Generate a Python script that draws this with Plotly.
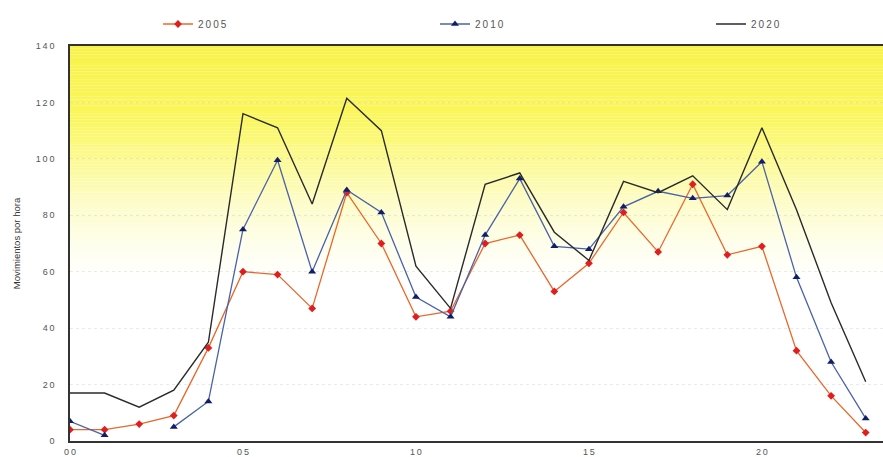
import plotly.graph_objects as go

# Hourly aircraft movements (hour of day 0..23)
hours = list(range(24))
mov_2005 = [4, 4, 6, 9, 33, 60, 59, 47, 88, 70, 44, 46, 70, 73, 53, 63, 81, 67, 91, 66, 69, 32, 16, 3]
mov_2010 = [7, 2, None, 5, 14, 75, 99.5, 60, 89, 81, 51, 44, 73, 93, 69, 68, 83, 88.5, 86, 87, 99, 58, 28, 8]
mov_2020 = [17, 17, 12, 18, 35, 116, 111, 84, 121.5, 110, 62, 47, 91, 95, 74, 64, 92, 88, 94, 82, 111, 82, 49, 21]

y_ticks = [0, 20, 40, 60, 80, 100, 120, 140]
x_ticks = [0, 5, 10, 15, 20]
x_tick_labels = ["00", "05", "10", "15", "20"]

THIN = "\u2009"


def spaced(s):
    return THIN.join(str(s))


fig = go.Figure()

fig.add_trace(go.Scatter(
    x=hours, y=mov_2005, name=spaced("2005"), mode="lines+markers",
    line=dict(color="#E8682C", width=1.3),
    marker=dict(symbol="diamond", size=6, color="#E01E1E"),
    legend="legend",
))
fig.add_trace(go.Scatter(
    x=hours, y=mov_2010, name=spaced("2010"), mode="lines+markers",
    connectgaps=False,
    line=dict(color="#4A62A8", width=1.3),
    marker=dict(symbol="triangle-up", size=7, color="#101E6A"),
    legend="legend2",
))
fig.add_trace(go.Scatter(
    x=hours, y=mov_2020, name=spaced("2020"), mode="lines",
    line=dict(color="#2A2A2A", width=1.4),
    legend="legend3",
))

# Yellow-to-white vertical gradient behind the plot area
stops = [
    (140, (248, 242, 72)),
    (115, (250, 246, 92)),
    (100, (252, 250, 145)),
    (85, (253, 252, 198)),
    (70, (254, 254, 235)),
    (58, (255, 255, 255)),
    (0, (255, 255, 255)),
]


def color_at(v):
    for (v1, c1), (v0, c0) in zip(stops[:-1], stops[1:]):
        if v0 <= v <= v1:
            t = (v - v0) / (v1 - v0) if v1 != v0 else 0
            return tuple(round(c0[i] + (c1[i] - c0[i]) * t) for i in range(3))
    return (255, 255, 255)


shapes = []
step = 1.0
v = 0.0
while v < 140:
    c = color_at(v + step / 2)
    shapes.append(dict(
        type="rect", xref="x domain", yref="y", x0=0, x1=1, y0=v, y1=v + step,
        fillcolor="rgb(%d,%d,%d)" % c, line=dict(width=0), layer="below",
    ))
    v += step


def legend_at(px):
    return dict(
        orientation="h", xref="container", yref="container",
        x=px / 883, y=1 - 24 / 457, xanchor="left", yanchor="middle",
        font=dict(size=10, color="#555555"), bgcolor="rgba(0,0,0,0)",
        itemwidth=30,
    )


fig.update_layout(
    width=883, height=457,
    margin=dict(l=70, r=0, t=46, b=16, autoexpand=False),
    paper_bgcolor="white",
    plot_bgcolor="white",
    shapes=shapes,
    font=dict(family="Liberation Sans, Arial, sans-serif", color="#555555"),
    showlegend=True,
    legend=legend_at(158),
    legend2=legend_at(435),
    legend3=legend_at(711),
    xaxis=dict(
        range=[0, 23.5], tickmode="array", tickvals=x_ticks,
        ticktext=[spaced(t) for t in x_tick_labels],
        showgrid=False, zeroline=False,
        showline=True, linecolor="#333333", linewidth=1.5, mirror=True,
        ticks="", ticklabelstandoff=1, tickfont=dict(size=9, color="#555555"),
    ),
    yaxis=dict(
        range=[0, 140], tickmode="array", tickvals=y_ticks,
        ticktext=[spaced(t) for t in y_ticks],
        showgrid=True, gridcolor="rgba(185,185,185,0.3)", griddash="dot", gridwidth=1,
        zeroline=False,
        showline=True, linecolor="#333333", linewidth=1.5,
        ticks="", ticklabelstandoff=12, tickfont=dict(size=9, color="#555555"),
        title=dict(text="Movimientos por hora", standoff=14,
                   font=dict(size=9.5, color="#333333")),
    ),
)

fig.write_html("out.html")
